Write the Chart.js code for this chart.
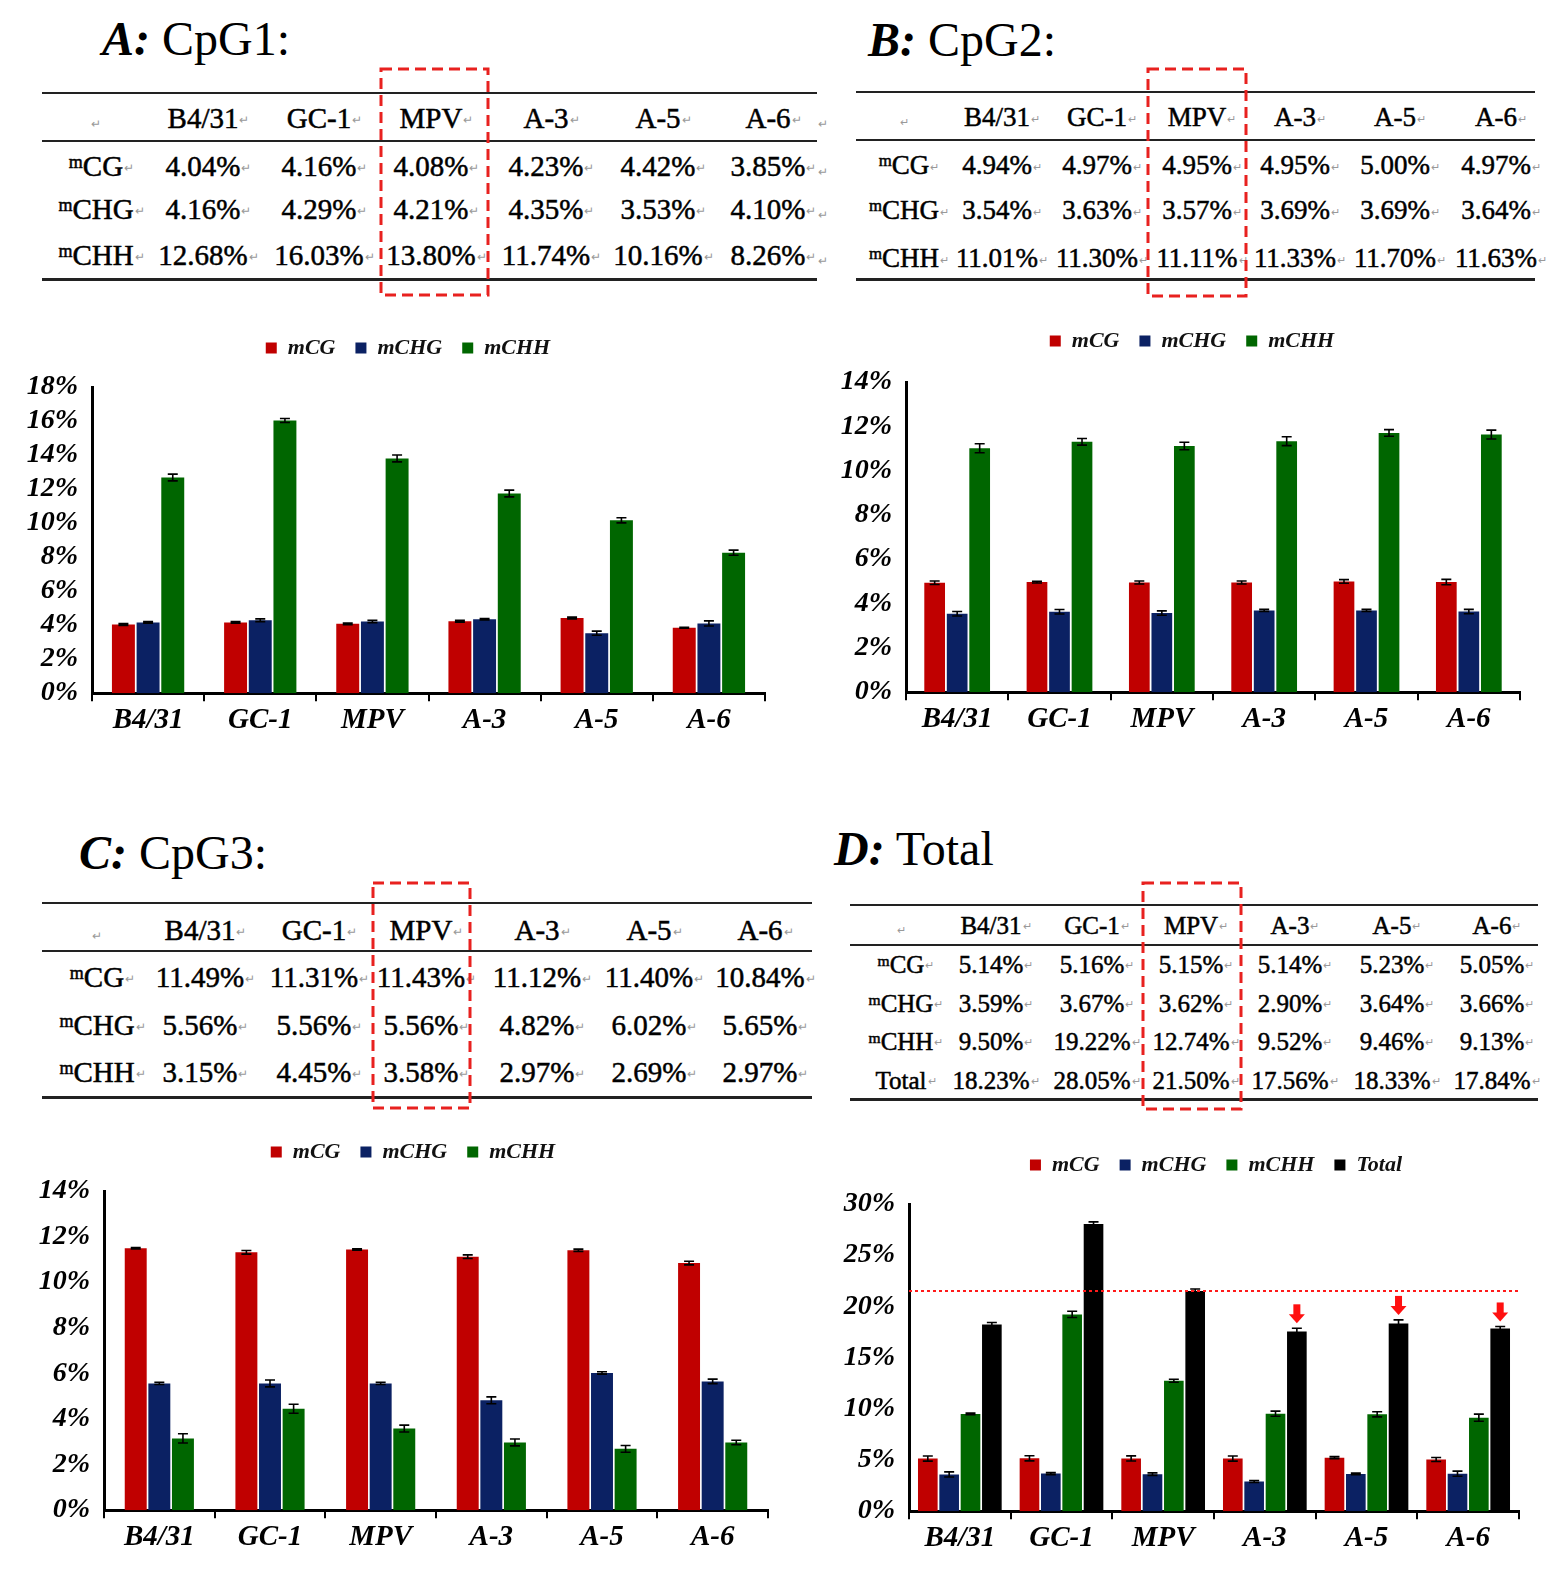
<!DOCTYPE html>
<html>
<head>
<meta charset="utf-8">
<script src="https://cdn.jsdelivr.net/npm/chart.js@4.4.0/dist/chart.umd.min.js"></script>
<style>
  body { margin: 0; background: #fff; }
  #page { position: relative; width: 1565px; height: 1576px; overflow: hidden;
          font-family: "Liberation Serif", "Times New Roman", serif; color: #000; }
  .t { position: absolute; white-space: nowrap; line-height: 1; transform: translate(-50%, -50%);
       -webkit-text-stroke: 0.5px #000; }
  .ret { position: absolute; left: 100%; top: 50%; transform: translateY(-35%);
         font-size: 0.42em; color: #999; margin-left: 1px; -webkit-text-stroke: 0; }
  .rule { position: absolute; height: 0; border-top: 2px solid #222; }
  .title { position: absolute; font-size: 48px; line-height: 48px; white-space: nowrap; }
  .title i { font-weight: bold; }
  sup { font-size: 0.62em; vertical-align: 0.42em; line-height: 0; }
  canvas { position: absolute; }
  svg { position: absolute; left: 0; top: 0; pointer-events: none; z-index: 5; }
</style>
</head>
<body>
<div id="page"></div>
<script>
// ---- data ----
const categories = ["B4/31", "GC-1", "MPV", "A-3", "A-5", "A-6"];

// A: CpG1
const cpg1_mCG  = [4.04, 4.16, 4.08, 4.23, 4.42, 3.85];
const cpg1_mCHG = [4.16, 4.29, 4.21, 4.35, 3.53, 4.10];
const cpg1_mCHH = [12.68, 16.03, 13.80, 11.74, 10.16, 8.26];
const cpg1_mCG_err  = [0.05, 0.05, 0.05, 0.05, 0.05, 0.03];
const cpg1_mCHG_err = [0.05, 0.08, 0.07, 0.04, 0.12, 0.15];
const cpg1_mCHH_err = [0.20, 0.12, 0.20, 0.20, 0.15, 0.15];

// B: CpG2
const cpg2_mCG  = [4.94, 4.97, 4.95, 4.95, 5.00, 4.97];
const cpg2_mCHG = [3.54, 3.63, 3.57, 3.69, 3.69, 3.64];
const cpg2_mCHH = [11.01, 11.30, 11.11, 11.33, 11.70, 11.63];
const cpg2_mCG_err  = [0.08, 0.04, 0.07, 0.07, 0.08, 0.12];
const cpg2_mCHG_err = [0.10, 0.10, 0.10, 0.05, 0.05, 0.10];
const cpg2_mCHH_err = [0.20, 0.15, 0.17, 0.20, 0.15, 0.20];

// C: CpG3
const cpg3_mCG  = [11.49, 11.31, 11.43, 11.12, 11.40, 10.84];
const cpg3_mCHG = [5.56, 5.56, 5.56, 4.82, 6.02, 5.65];
const cpg3_mCHH = [3.15, 4.45, 3.58, 2.97, 2.69, 2.97];
const cpg3_mCG_err  = [0.03, 0.08, 0.03, 0.08, 0.05, 0.08];
const cpg3_mCHG_err = [0.05, 0.15, 0.05, 0.15, 0.05, 0.10];
const cpg3_mCHH_err = [0.20, 0.20, 0.15, 0.15, 0.15, 0.10];

// D: Total
const total_mCG   = [5.14, 5.16, 5.15, 5.14, 5.23, 5.05];
const total_mCHG  = [3.59, 3.67, 3.62, 2.90, 3.64, 3.66];
const total_mCHH  = [9.50, 19.22, 12.74, 9.52, 9.46, 9.13];
const total_Total = [18.23, 28.05, 21.50, 17.56, 18.33, 17.84];
const total_mCG_err   = [0.25, 0.25, 0.25, 0.25, 0.10, 0.20];
const total_mCHG_err  = [0.25, 0.10, 0.12, 0.10, 0.08, 0.25];
const total_mCHH_err  = [0.08, 0.30, 0.15, 0.25, 0.25, 0.35];
const total_Total_err = [0.20, 0.20, 0.20, 0.30, 0.35, 0.20];
const arrowedGroups = [3, 4, 5];

const COLORS = { CG: "#c00000", CHG: "#0b2163", CHH: "#006600", Total: "#000000" };
const FONT = '"Liberation Serif", "Times New Roman", serif';

// ---- layout of the four panels ----
const panels = [
  { letter: "A:", name: "CpG1:", title: [102, 55],
    rows: [["CG", cpg1_mCG], ["CHG", cpg1_mCHG], ["CHH", cpg1_mCHH]],
    errs: [cpg1_mCG_err, cpg1_mCHG_err, cpg1_mCHH_err],
    table: { left: 42, right: 817, top: 93, head: 141, bottom: 279, headY: 118, rowY: [166, 209, 255],
             labelX: 96, colX: [203, 319, 431, 546, 658, 768], font: 29, endX: 823 },
    box: [381, 69, 107, 226],
    chart: { left: 92, right: 765, top: 387, bottom: 694, legendX: 408, legendY: 348,
             max: 18, step: 2, cat: 0.66, bar: 0.93 } },
  { letter: "B:", name: "CpG2:", title: [868, 56],
    rows: [["CG", cpg2_mCG], ["CHG", cpg2_mCHG], ["CHH", cpg2_mCHH]],
    errs: [cpg2_mCG_err, cpg2_mCHG_err, cpg2_mCHH_err],
    table: { left: 856, right: 1535, top: 92, head: 140, bottom: 279, headY: 117, rowY: [165, 210, 258],
             labelX: 904, colX: [997, 1097, 1197, 1295, 1395, 1496], font: 27 },
    box: [1148, 69, 98, 227],
    chart: { left: 906, right: 1520, top: 382, bottom: 693, legendX: 1192, legendY: 341,
             max: 14, step: 2, cat: 0.66, bar: 0.92 } },
  { letter: "C:", name: "CpG3:", title: [79, 869],
    rows: [["CG", cpg3_mCG], ["CHG", cpg3_mCHG], ["CHH", cpg3_mCHH]],
    errs: [cpg3_mCG_err, cpg3_mCHG_err, cpg3_mCHH_err],
    table: { left: 42, right: 812, top: 903, head: 951, bottom: 1097, headY: 930, rowY: [977, 1025, 1072],
             labelX: 97, colX: [200, 314, 421, 537, 649, 760], font: 29 },
    box: [373, 883, 97, 225],
    chart: { left: 104, right: 768, top: 1191, bottom: 1511, legendX: 413, legendY: 1152,
             max: 14, step: 2, cat: 0.64, bar: 0.93 } },
  { letter: "D:", name: "Total", title: [834, 865],
    rows: [["CG", total_mCG], ["CHG", total_mCHG], ["CHH", total_mCHH], ["Total", total_Total]],
    errs: [total_mCG_err, total_mCHG_err, total_mCHH_err, total_Total_err],
    table: { left: 850, right: 1538, top: 905, head: 945, bottom: 1099, headY: 925, rowY: [964, 1003, 1041, 1080],
             labelX: 901, colX: [991, 1092, 1191, 1290, 1392, 1492], font: 25 },
    box: [1143, 883, 98, 226],
    chart: { left: 909, right: 1519, top: 1204, bottom: 1512, legendX: 1216, legendY: 1165,
             max: 30, step: 5, cat: 0.84, bar: 0.92, refLine: total_Total[2], arrows: arrowedGroups } }
];

const page = document.getElementById("page");

function addText(x, y, html, size) {
  const d = document.createElement("div");
  d.className = "t";
  d.style.left = x + "px";
  d.style.top = y + "px";
  d.style.fontSize = size + "px";
  d.innerHTML = html;
  page.appendChild(d);
  return d;
}

function addRule(left, right, y, w) {
  const d = document.createElement("div");
  d.className = "rule";
  d.style.left = left + "px";
  d.style.width = (right - left) + "px";
  d.style.top = (y - w / 2) + "px";
  d.style.borderTopWidth = w + "px";
  page.appendChild(d);
}

const RET = '<span class="ret">\u21B5</span>';
const LONE_RET = '<span style="font-size:0.42em;color:#999;-webkit-text-stroke:0">\u21B5</span>';

function buildTable(p) {
  const t = p.table;
  addRule(t.left, t.right, t.top, 2);
  addRule(t.left, t.right, t.head, 2);
  addRule(t.left, t.right, t.bottom, 3);
  addText(t.labelX, t.headY, LONE_RET, t.font);
  categories.forEach((c, i) => addText(t.colX[i], t.headY, c + RET, t.font));
  p.rows.forEach((r, ri) => {
    const label = r[0] === "Total" ? "Total" : "<sup>m</sup>" + r[0];
    addText(t.labelX, t.rowY[ri], label + RET, t.font);
    r[1].forEach((v, i) => addText(t.colX[i], t.rowY[ri], v.toFixed(2) + "%" + RET, t.font));
    if (t.endX) addText(t.endX, t.rowY[ri], LONE_RET, t.font);
  });
  if (t.endX) addText(t.endX, t.headY, LONE_RET, t.font);
}

function buildTitle(p) {
  const d = document.createElement("div");
  d.className = "title";
  d.style.left = p.title[0] + "px";
  d.style.top = (p.title[1] - 40) + "px";
  d.innerHTML = "<i>" + p.letter + "</i> " + p.name;
  page.appendChild(d);
}

// error bars drawn over each bar from the dataset's errors array
const errorBars = {
  id: "errorBars",
  afterDatasetsDraw(chart) {
    const ctx = chart.ctx, y = chart.scales.y;
    ctx.save();
    ctx.strokeStyle = "#000";
    ctx.lineWidth = 1.6;
    chart.data.datasets.forEach((ds, di) => {
      chart.getDatasetMeta(di).data.forEach((bar, i) => {
        const v = ds.data[i], e = ds.errors[i];
        const yt = y.getPixelForValue(v + e), yb = y.getPixelForValue(v - e);
        const hw = 5;
        ctx.beginPath();
        ctx.moveTo(bar.x, yt); ctx.lineTo(bar.x, yb);
        ctx.moveTo(bar.x - hw, yt); ctx.lineTo(bar.x + hw, yt);
        ctx.moveTo(bar.x - hw, yb); ctx.lineTo(bar.x + hw, yb);
        ctx.stroke();
      });
    });
    ctx.restore();
  }
};

// dotted reference line and red arrows (panel D)
const markers = {
  id: "markers",
  afterDatasetsDraw(chart) {
    const c = chart.options.plugins.markers;
    if (!c || c.refLine === undefined) return;
    const ctx = chart.ctx, y = chart.scales.y, area = chart.chartArea;
    ctx.save();
    const ry = y.getPixelForValue(c.refLine);
    ctx.strokeStyle = "#ff1a1a";
    ctx.lineWidth = 2;
    ctx.setLineDash([3, 3]);
    ctx.beginPath();
    ctx.moveTo(area.left, ry); ctx.lineTo(area.right, ry);
    ctx.stroke();
    ctx.setLineDash([]);
    const last = chart.data.datasets.length - 1;
    const ds = chart.data.datasets[last];
    const meta = chart.getDatasetMeta(last);
    ctx.fillStyle = "#ff1010";
    c.arrows.forEach(i => {
      const bar = meta.data[i];
      const tip = y.getPixelForValue(ds.data[i] + ds.errors[i]) - 5;
      const x = bar.x;
      ctx.fillRect(x - 3.5, tip - 19, 7, 11);
      ctx.beginPath();
      ctx.moveTo(x - 8, tip - 9); ctx.lineTo(x + 8, tip - 9); ctx.lineTo(x, tip);
      ctx.closePath();
      ctx.fill();
    });
    ctx.restore();
  }
};

function buildChart(p) {
  const c = p.chart;
  const yWidth = 95;
  const canvasLeft = c.left - yWidth;
  const padR = 6;
  const W = c.right - canvasLeft + padR;

  const make = (H, dx, dy) => {
    const canvas = document.createElement("canvas");
    canvas.width = W;
    canvas.height = H;
    canvas.style.left = canvasLeft + "px";
    canvas.style.top = "0px";
    page.appendChild(canvas);
    const datasets = p.rows.map((r, i) => ({
      label: r[0] === "Total" ? "Total" : "m" + r[0],
      data: r[1],
      errors: p.errs[i],
      backgroundColor: COLORS[r[0]],
      borderWidth: 0,
      categoryPercentage: c.cat,
      barPercentage: c.bar
    }));
    const shiftLegend = {
      id: "shiftLegend",
      afterLayout(chart) {
        const lg = chart.legend;
        lg.left += dx; lg.right += dx;
        lg.top += dy; lg.bottom += dy;
      }
    };
    return new Chart(canvas, {
      type: "bar",
      data: { labels: categories, datasets },
      options: {
        responsive: false,
        maintainAspectRatio: false,
        animation: false,
        layout: { padding: { left: 0, right: padR, top: 4, bottom: 4 } },
        plugins: {
          legend: {
            position: "top",
            labels: {
              boxWidth: 11, boxHeight: 11, padding: 20, color: "#111",
              font: { family: FONT, size: 22, style: "italic", weight: "bold" }
            }
          },
          tooltip: { enabled: false },
          markers: c.refLine !== undefined ? { refLine: c.refLine, arrows: c.arrows } : {}
        },
        scales: {
          x: {
            grid: { display: true, drawOnChartArea: false, drawTicks: true, tickLength: 8,
                    color: "#000", lineWidth: 2, offset: true },
            border: { display: true, color: "#000", width: 3 },
            ticks: { color: "#000", padding: 2, maxRotation: 0, autoSkip: false,
                     font: { family: FONT, size: 29, style: "italic", weight: "bold" } }
          },
          y: {
            min: 0, max: c.max,
            afterFit: s => { s.width = yWidth; },
            grid: { display: false, drawTicks: false },
            border: { display: true, color: "#000", width: 3 },
            ticks: { stepSize: c.step, color: "#000", padding: 14, autoSkip: false,
                     callback: v => v + "%",
                     font: { family: FONT, size: 28, style: "italic", weight: "bold" } }
          }
        }
      },
      plugins: [errorBars, markers, shiftLegend]
    });
  };

  const H = (c.bottom - c.top) + 140;
  let ch = make(H, 0, 0);
  const ca = ch.chartArea;
  const boxes = ch.legend.legendHitBoxes;
  const first = boxes[0], last = boxes[boxes.length - 1];
  const itemCy = first.top + first.height / 2;
  const itemCx = (first.left + last.left + last.width) / 2;
  const dH = (c.bottom - c.top) - (ca.bottom - ca.top);
  const dy = (c.legendY - c.top) - (itemCy - ca.top);
  const dx = (c.legendX - canvasLeft) - itemCx;
  ch.canvas.remove();
  ch.destroy();
  ch = make(H + dH, dx, dy);
  ch.canvas.style.top = (c.top - ch.chartArea.top) + "px";
}

// dashed red boxes around the MPV column
function buildBoxes() {
  const ns = "http://www.w3.org/2000/svg";
  const svg = document.createElementNS(ns, "svg");
  svg.setAttribute("width", 1565);
  svg.setAttribute("height", 1576);
  panels.forEach(p => {
    const r = document.createElementNS(ns, "rect");
    r.setAttribute("x", p.box[0]);
    r.setAttribute("y", p.box[1]);
    r.setAttribute("width", p.box[2]);
    r.setAttribute("height", p.box[3]);
    r.setAttribute("fill", "none");
    r.setAttribute("stroke", "#e8211f");
    r.setAttribute("stroke-width", 3);
    r.setAttribute("stroke-dasharray", "11 6");
    svg.appendChild(r);
  });
  page.appendChild(svg);
}

panels.forEach(p => {
  buildTitle(p);
  buildTable(p);
  buildChart(p);
});
buildBoxes();
</script>
</body>
</html>
